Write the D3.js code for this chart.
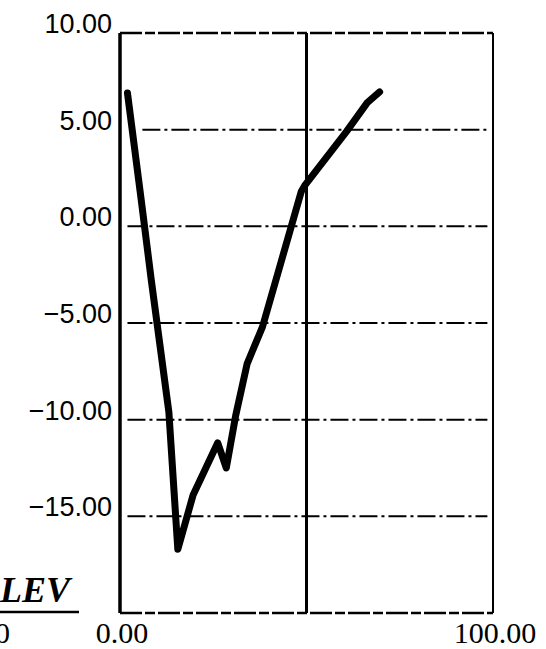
<!DOCTYPE html>
<html>
<head>
<meta charset="utf-8">
<script src="https://cdn.jsdelivr.net/npm/d3@7.9.0/dist/d3.min.js"></script>
<style>
  html, body { margin: 0; padding: 0; background: #fff; }
  svg { display: block; }
</style>
</head>
<body>
<svg width="546" height="649"></svg>
<script>
// values
const xValues = [2, 5.6, 8.4, 13.1, 15.5, 19.6, 26.2, 28.5, 31, 34.1, 38.2, 48.6, 49.5, 55.1, 60.7, 66.3, 69.6];
const yValues = [6.9, 1.5, -2.8, -9.6, -16.7, -13.9, -11.2, -12.5, -9.8, -7.1, -5.2, 1.8, 2.1, 3.5, 4.9, 6.4, 6.95];
const yTicks = [10, 5, 0, -5, -10, -15];
const gridTicks = [5, 0, -5, -10, -15];
const xTicks = [0, 100];
const xMid = 50;

const svg = d3.select('svg');
const x = d3.scaleLinear().domain([0, 100]).range([120, 493]);
const y = d3.scaleLinear().domain([-20, 10]).range([613, 33]);

const fmt = d3.format('.2f');

// dash-dot grid lines
svg.selectAll('line.grid')
  .data(gridTicks)
  .enter()
  .append('line')
  .attr('class', 'grid')
  .attr('x1', d => d === 5 ? x(6) : x(2))
  .attr('x2', x(98.5))
  .attr('y1', d => y(d))
  .attr('y2', d => y(d))
  .attr('stroke', '#000')
  .attr('stroke-width', 2)
  .attr('stroke-dasharray', '18 4 3 4');

// top and bottom frame (dashed)
[10, -20].forEach(v => {
  svg.append('line')
    .attr('x1', x(0)).attr('x2', x(100))
    .attr('y1', y(v)).attr('y2', y(v))
    .attr('stroke', '#000')
    .attr('stroke-width', 2.5)
    .attr('stroke-dasharray', '22 3 10 3');
});

// right frame
svg.append('line')
  .attr('x1', x(100)).attr('x2', x(100))
  .attr('y1', y(10)).attr('y2', y(-20))
  .attr('stroke', '#000')
  .attr('stroke-width', 2);

// middle vertical line
svg.append('line')
  .attr('x1', x(xMid)).attr('x2', x(xMid))
  .attr('y1', y(10)).attr('y2', y(-20))
  .attr('stroke', '#000')
  .attr('stroke-width', 3);

// left axis
svg.append('line')
  .attr('x1', x(0)).attr('x2', x(0))
  .attr('y1', y(10)).attr('y2', y(-20))
  .attr('stroke', '#000')
  .attr('stroke-width', 3.5);

// y labels
svg.selectAll('text.ylab')
  .data(yTicks)
  .enter()
  .append('text')
  .attr('class', 'ylab')
  .attr('x', 112)
  .attr('y', d => y(d))
  .attr('text-anchor', 'end')
  .attr('font-family', 'Liberation Sans, Arial, sans-serif')
  .attr('font-size', 27)
  .text(d => (d < 0 ? '\u2212' : '') + fmt(Math.abs(d)));

// x labels
svg.selectAll('text.xlab')
  .data(xTicks)
  .enter()
  .append('text')
  .attr('class', 'xlab')
  .attr('x', d => x(d) + 2)
  .attr('y', 643)
  .attr('text-anchor', 'middle')
  .attr('font-family', 'Liberation Serif, Times New Roman, serif')
  .attr('font-size', 30)
  .text(d => fmt(d));

// axis title at the left edge
svg.append('text')
  .attr('x', 0)
  .attr('y', 602)
  .attr('font-family', 'Liberation Serif, Times New Roman, serif')
  .attr('font-weight', 'bold')
  .attr('font-style', 'italic')
  .attr('font-size', 36)
  .text('LEV');
svg.append('line')
  .attr('x1', 0).attr('x2', 79)
  .attr('y1', 612).attr('y2', 612)
  .attr('stroke', '#000')
  .attr('stroke-width', 2.5);
svg.append('text')
  .attr('x', 10)
  .attr('y', 643)
  .attr('text-anchor', 'end')
  .attr('font-family', 'Liberation Serif, Times New Roman, serif')
  .attr('font-size', 30)
  .text('0');

// data line
const line = d3.line()
  .x(d => x(d[0]))
  .y(d => y(d[1]));

svg.append('path')
  .datum(d3.zip(xValues, yValues))
  .attr('d', line)
  .attr('fill', 'none')
  .attr('stroke', '#000')
  .attr('stroke-width', 7)
  .attr('stroke-linejoin', 'round')
  .attr('stroke-linecap', 'round');
</script>
</body>
</html>
